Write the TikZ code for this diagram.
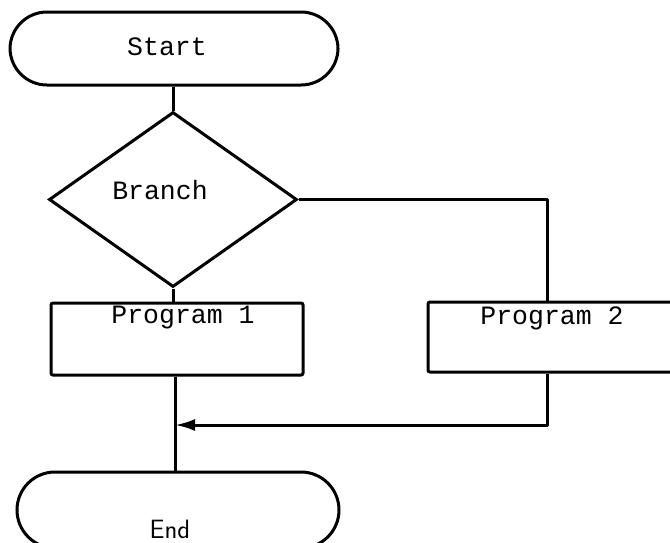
\documentclass[tikz,border=0pt]{standalone}
\usepackage{fontspec}
\setmonofont{Liberation Mono}
\usetikzlibrary{shapes.geometric,arrows.meta}
\tikzset{
  ln/.style={line width=3pt},
  term/.style={draw,ln,rectangle,rounded corners=37pt,inner sep=0pt},
  proc/.style={draw,ln,rectangle,rounded corners=2pt,inner sep=0pt},
  dec/.style={draw,ln,diamond,inner sep=0pt},
  lbl/.style={font=\fontsize{26.5}{30}\selectfont\ttfamily,inner sep=0pt},
  flow/.style={ln,line join=round},
  arr/.style={flow,-{Latex[length=20pt,width=12pt]}}
}
\begin{document}
\begin{tikzpicture}[x=1pt,y=-1pt]
\useasboundingbox (0,0) rectangle (670,542);
\clip (0,0) rectangle (670,542);
\node[term,minimum width=328pt,minimum height=73pt] (start) at (174,48.5) {};
\node[dec,minimum width=248pt,minimum height=175pt] (branch) at (173,199.5) {};
\node[proc,minimum width=252pt,minimum height=72pt] (p1) at (177,339) {};
\node[proc,minimum width=272pt,minimum height=70pt] (p2) at (564,337) {};
\node[term,minimum width=322pt,minimum height=76pt,rounded corners=38pt] (end) at (178,510) {};
\node[lbl] (tstart) at (167,47) {Start};
\node[lbl] (tbranch) at (160,190) {Branch};
\node[lbl] (tp1) at (183,318) {Program 1};
\node[lbl] (tp2) at (552,318) {Program 2};
\node[lbl,font=\fontsize{26.5}{30}\selectfont\sffamily] (tend) at (170,529) {End};
\coordinate (m) at (175,425);
\coordinate (r) at (547,425);
\draw[flow] (start.south -| branch.north) -- (branch.north);
\draw[flow] (branch.south) -- (branch.south |- p1.north);
\draw[flow] (branch.east) -| (r |- p2.north);
\draw[arr] (r |- p2.south) -- (r) -- (m);
\draw[flow] (m |- p1.south) -- (m |- end.north);
\end{tikzpicture}
\end{document}
